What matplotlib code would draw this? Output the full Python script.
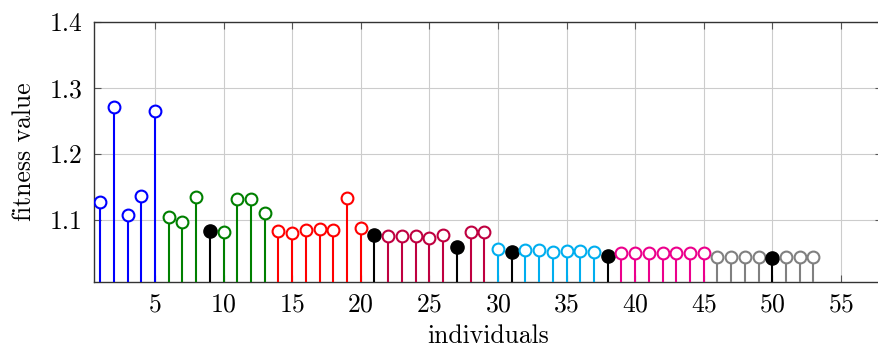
import matplotlib
matplotlib.use('Agg')
import matplotlib.pyplot as plt
import numpy as np

plt.rcParams['font.family'] = 'serif'
plt.rcParams['font.serif'] = ['cmr10']
plt.rcParams['mathtext.fontset'] = 'cm'
plt.rcParams['axes.formatter.use_mathtext'] = True

# fitness value of each individual (1..53)
individuals = np.arange(1, 54)
fitness = [1.127, 1.271, 1.108, 1.136, 1.265,
           1.105, 1.097, 1.135, 1.083, 1.082, 1.132, 1.132, 1.110,
           1.083, 1.080, 1.085, 1.086, 1.085, 1.133, 1.088, 1.077,
           1.076, 1.076, 1.076, 1.073, 1.077, 1.059, 1.082, 1.082,
           1.056, 1.052, 1.055, 1.055, 1.052, 1.053, 1.053, 1.052, 1.045,
           1.050, 1.050, 1.050, 1.050, 1.050, 1.050, 1.050,
           1.044, 1.044, 1.044, 1.044, 1.042, 1.044, 1.044, 1.044]
# group of each individual; 'best' = filled black marker
group = (['blue'] * 5 + ['green'] * 3 + ['best'] + ['green'] * 4 +
         ['red'] * 7 + ['best'] + ['purple'] * 5 + ['best'] + ['purple'] * 2 +
         ['cyan'] + ['best'] + ['cyan'] * 6 + ['best'] +
         ['magenta'] * 7 + ['gray'] * 4 + ['best'] + ['gray'] * 3)

colors = {'blue': '#0000ff', 'green': '#008000', 'red': '#ff0000',
          'purple': '#bf0040', 'cyan': '#00aeef', 'magenta': '#ec008c',
          'gray': '#808080', 'best': 'black'}

fig = plt.figure(figsize=(8.79, 3.47), dpi=100)
ax = fig.add_axes([94 / 879, 1 - 282 / 347, (882 - 94) / 879, (282 - 22) / 347])

ymin = 1.006
for x, y, g in zip(individuals, fitness, group):
    c = colors[g]
    ax.plot([x, x], [ymin, y], color=c, lw=1.5, zorder=3)
    if g == 'best':
        ax.plot(x, y, 'o', color=c, ms=9.5, zorder=4)
    else:
        ax.plot(x, y, 'o', mfc='white', mec=c, mew=1.5, ms=8.5, zorder=4)

ax.set_xlim(0.55, 58)
ax.set_ylim(ymin, 1.4)
ax.set_xticks(np.arange(5, 60, 5))
ax.set_yticks([1.1, 1.2, 1.3, 1.4])
ax.set_yticklabels(['1.1', '1.2', '1.3', '1.4'])
ax.grid(color='#cccccc', lw=0.8, zorder=0)
ax.tick_params(direction='in', length=5, color='#555555', labelsize=18.5,
               top=True, right=True, pad=8)
for s in ax.spines.values():
    s.set_color('#333333')
    s.set_linewidth(1.0)
ax.set_xlabel('individuals', fontsize=18.5, labelpad=5)
ax.set_ylabel('fitness value', fontsize=18.5, labelpad=10)

fig.savefig('out.png', dpi=100)
